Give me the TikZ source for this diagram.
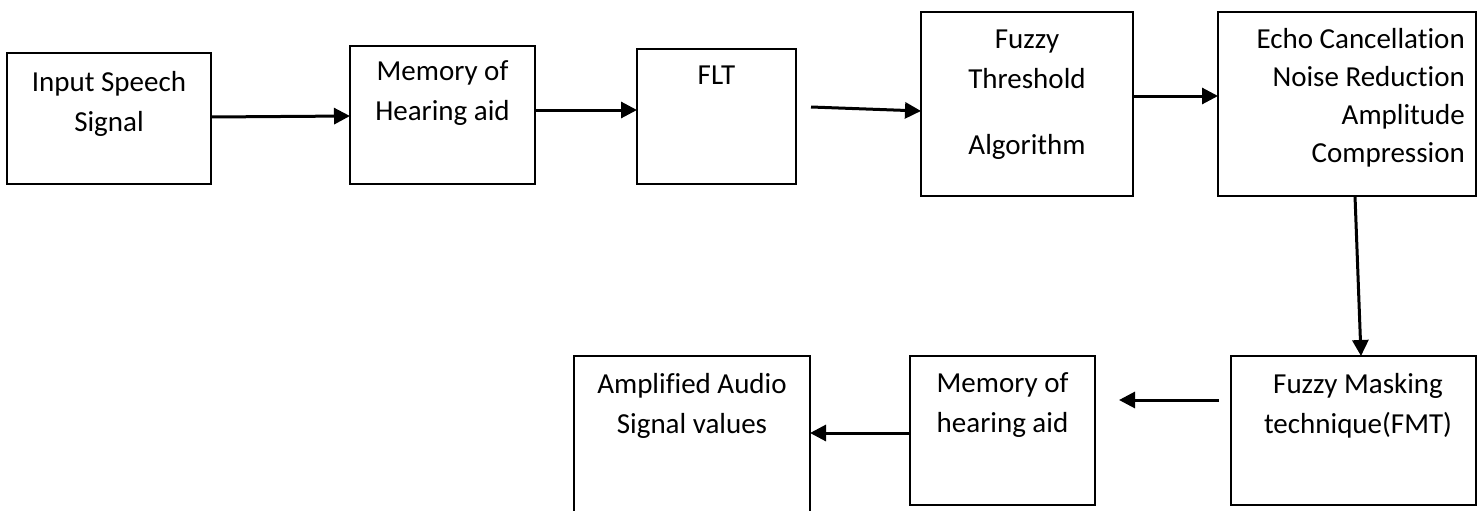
\documentclass[tikz,border=0pt]{standalone}
\usepackage{fontspec}
\setmainfont[Ligatures={NoCommon}]{Carlito}
\usetikzlibrary{arrows.meta}
\begin{document}
\begin{tikzpicture}[x=1pt,y=-1pt]
            \useasboundingbox (0,0) rectangle (1477,511);
            \begin{scope}[every node/.style={rectangle,draw,line width=1.8pt,inner sep=0pt,outer sep=0pt}]
                \node[minimum width=204pt,minimum height=131pt] (in) at (109,118.5) {};
                \node[minimum width=185pt,minimum height=138pt] (mem1) at (442.5,115) {};
                \node[minimum width=159pt,minimum height=135pt] (flt) at (716.5,116.5) {};
                \node[minimum width=212pt,minimum height=184pt] (fts) at (1027,104) {};
                \node[minimum width=258pt,minimum height=184pt] (echo) at (1347,104) {};
                \node[minimum width=245pt,minimum height=149pt] (fmt) at (1353.5,430.5) {};
                \node[minimum width=185pt,minimum height=149pt] (mem2) at (1002.5,430.5) {};
                \node[minimum width=236pt,minimum height=160pt] (amp) at (692,436) {};
            \end{scope}
            \begin{scope}[every node/.style={align=center,anchor=north,inner sep=0pt,font=\fontsize{29}{40}\selectfont}]
                \node (in-t) at (109,71) {Input Speech\\Signal};
                \node (mem1-t) at (442.5,60) {Memory of\\Hearing aid};
                \node (flt-t) at (716.5,66) {FLT};
                \node (fts-t) at (1027,30) {Fuzzy\\Threshold\\[26pt]Algorithm};
                \node[anchor=north east,align=right] (echo-t) at (1465,28)
                    {Echo Cancellation\\[-2pt]Noise Reduction\\[-2pt]Amplitude\\[-2pt]Compression};
                \node (fmt-t) at (1358,373) {Fuzzy Masking\\technique(FMT)};
                \node (mem2-t) at (1002.5,372) {Memory of\\hearing aid};
                \node (amp-t) at (692,373) {Amplified Audio\\Signal values};
            \end{scope}
            \begin{scope}[every edge/.style={draw,line width=3pt,-{Triangle[length=16pt,width=16pt]}}]
                \path
                    (in.east |- 0,117) edge (mem1.west |- 0,116)
                    (mem1.east |- 0,110) edge (flt.west |- 0,110)
                    ([xshift=15pt]flt.east |- 0,107) edge (fts.west |- 0,111)
                    (fts.east |- 0,96) edge (echo.west |- 0,96)
                    (echo.south -| 1355,0) edge (fmt.north -| 1361,0)
                    ([xshift=-12pt]fmt.west |- 0,400) edge ([xshift=24pt]mem2.east |- 0,400)
                    (mem2.west |- 0,433) edge (amp.east |- 0,433);
            \end{scope}
        \end{tikzpicture}
\end{document}
